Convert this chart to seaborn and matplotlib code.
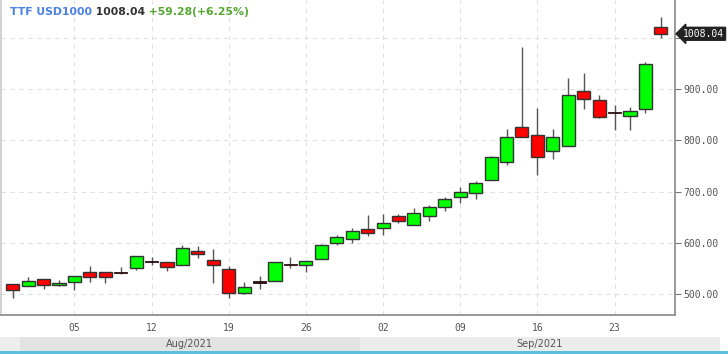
import numpy as np
import pandas as pd
import matplotlib
matplotlib.use('Agg')
import matplotlib.pyplot as plt
import seaborn as sns

dates = pd.bdate_range('2021-07-30', '2021-09-28')

opens = [519, 515.6, 529.9, 516.9, 523.4, 543, 543, 541, 551.4, 563.5, 562.5, 556.6, 584.6, 566.4, 549.4,
         502.5, 523, 526, 557, 556, 569, 599, 608, 626.4, 629, 652, 634, 652, 669, 689,
         698, 722, 758, 827, 809.6, 778.7, 789, 896, 879, 854, 847.7, 862, 1022]
highs = [520, 532.6, 530, 527, 535, 554.7, 543, 552, 575, 572.9, 562.5, 595.7, 593.8, 587.3, 554.7,
         524, 535, 562.5, 571.7, 565, 597.7, 615.8, 629, 654.9, 656, 656, 668, 673, 689, 708,
         720, 769.5, 823, 982, 863, 821.7, 922, 932, 889, 868.5, 866, 953, 1040]
lows = [491.6, 515, 509.8, 515.6, 507.8, 524, 520.9, 539, 546.9, 557.2, 544.3, 556, 570.3, 520.9, 491.6,
        500, 509, 526, 550.8, 543, 569, 596, 600, 613.3, 616, 638, 634, 642, 661.5, 678,
        686, 722, 751, 807, 733, 763, 789, 860.7, 844, 820.3, 820, 854, 999]
closes = [507, 526, 518.2, 522, 535, 532.6, 533.8, 542, 574.2, 564, 552.1, 590.4, 578.1, 556.6, 502.5,
          514.3, 524, 562.5, 557.5, 565, 595, 612, 622.5, 618.6, 638, 642, 657.6, 669, 685, 700,
          717, 767, 806, 807, 768, 807.4, 889, 881.5, 845, 854.5, 857.4, 948.76, 1008.04]

last_price = 1008.04
change = 59.28
change_pct = 6.25

sns.set_theme(style='white')
plt.rcParams['font.family'] = ['DejaVu Sans']

df = pd.DataFrame({'date': dates, 'open': opens, 'high': highs, 'low': lows, 'close': closes})
df['i'] = np.arange(len(df))

fig = plt.figure(figsize=(7.28, 3.54), dpi=100)
fig.patch.set_facecolor('white')
ax = fig.add_axes([0.001, 0.110, 0.926, 0.890])

# wicks
ax.vlines(df['i'], df['low'], df['high'], color='#555555', lw=1, zorder=2)

# bodies
for _, r in df.iterrows():
    diff = r['close'] - r['open']
    if abs(diff) < 2:
        ax.bar(r['i'], 2.2, bottom=min(r['open'], r['close']) - 0.6, width=0.85,
               color='#2a1010', edgecolor='#2a1010', lw=0.6, zorder=3)
    else:
        col = '#00ff00' if diff > 0 else '#ff0000'
        ax.bar(r['i'], abs(diff), bottom=min(r['open'], r['close']), width=0.85,
               color=col, edgecolor='#333333', lw=1, zorder=3)

ax.set_xlim(-0.777, 42.91)
ax.set_ylim(459, 1074)

thu = [k for k, d in enumerate(dates) if d.weekday() == 3 and k > 0]
ax.set_xticks(thu)
ax.set_xticklabels([dates[k].strftime('%d') for k in thu])
yt = [500, 600, 700, 800, 900, 1000]
ax.set_yticks(yt)
ax.set_yticklabels(['%.2f' % v if v != 1000 else '' for v in yt])
ax.yaxis.tick_right()
ax.tick_params(axis='both', which='major', direction='out', length=4, width=0.8, color='#777777',
               labelsize=7, labelcolor='#555555', pad=2)
for lab in ax.get_xticklabels() + ax.get_yticklabels():
    lab.set_family('DejaVu Sans Mono')

ax.grid(True, color='#e0e0e0', lw=0.8, linestyle=(0, (4, 4)))
ax.set_axisbelow(True)
for s in ['left', 'right', 'bottom']:
    ax.spines[s].set_visible(True)
    ax.spines[s].set_color('#888888')
ax.spines['left'].set_color('#cccccc')
ax.spines['right'].set_linewidth(1.2)
ax.spines['bottom'].set_linewidth(1.2)
ax.spines['top'].set_visible(False)

# title line
t1 = ax.text(0.014, 0.962, 'TTF USD1000', transform=ax.transAxes, fontsize=7.8, fontweight='bold',
             color='#4a80e8', va='center', ha='left')
t2 = ax.annotate(' %.2f' % last_price, xy=(1, 0), xycoords=t1, fontsize=7.8, fontweight='bold',
                 color='#333333', va='bottom', ha='left')
t3 = ax.annotate(' +%.2f(+%.2f%%)' % (change, change_pct), xy=(1, 0), xycoords=t2, fontsize=7.8,
                 fontweight='bold', color='#55a832', va='bottom', ha='left')

# last price tag
ax.text(1.012, last_price, '%.2f' % last_price, transform=ax.get_yaxis_transform(),
        fontsize=7, family='DejaVu Sans Mono', color='white', va='center', ha='left',
        bbox=dict(boxstyle='larrow,pad=0.15', fc='#222222', ec='#222222'), zorder=10, clip_on=False)

# month band
bax = fig.add_axes([0, 3.5 / 354, 1, 14 / 354])
bax.set_xlim(-0.777, -0.777 + 728 / 15.45)
bax.set_ylim(0, 1)
bax.axis('off')
bax.axvspan(-0.777, 45.8, color='#ededed', lw=0)
months = df.groupby(df['date'].dt.to_period('M'))['i'].agg(['min', 'max'])
for k, (per, row) in enumerate(months.iterrows()):
    if row['min'] == 0:
        continue
    x0 = row['min'] - 0.5
    x1 = row['max'] + 0.5 if k < len(months) - 1 else 45.8
    bax.axvspan(x0, x1, color='#e3e3e3' if per.month == 8 else '#ececec', lw=0)
    bax.text((x0 + x1) / 2, 0.45, per.strftime('%b/%Y'), fontsize=7, color='#555555',
             ha='center', va='center')

fig.add_artist(plt.Rectangle((0, 0), 1, 3 / 354, transform=fig.transFigure, color='#5bc0de', lw=0))

fig.savefig('out.png', dpi=100)
